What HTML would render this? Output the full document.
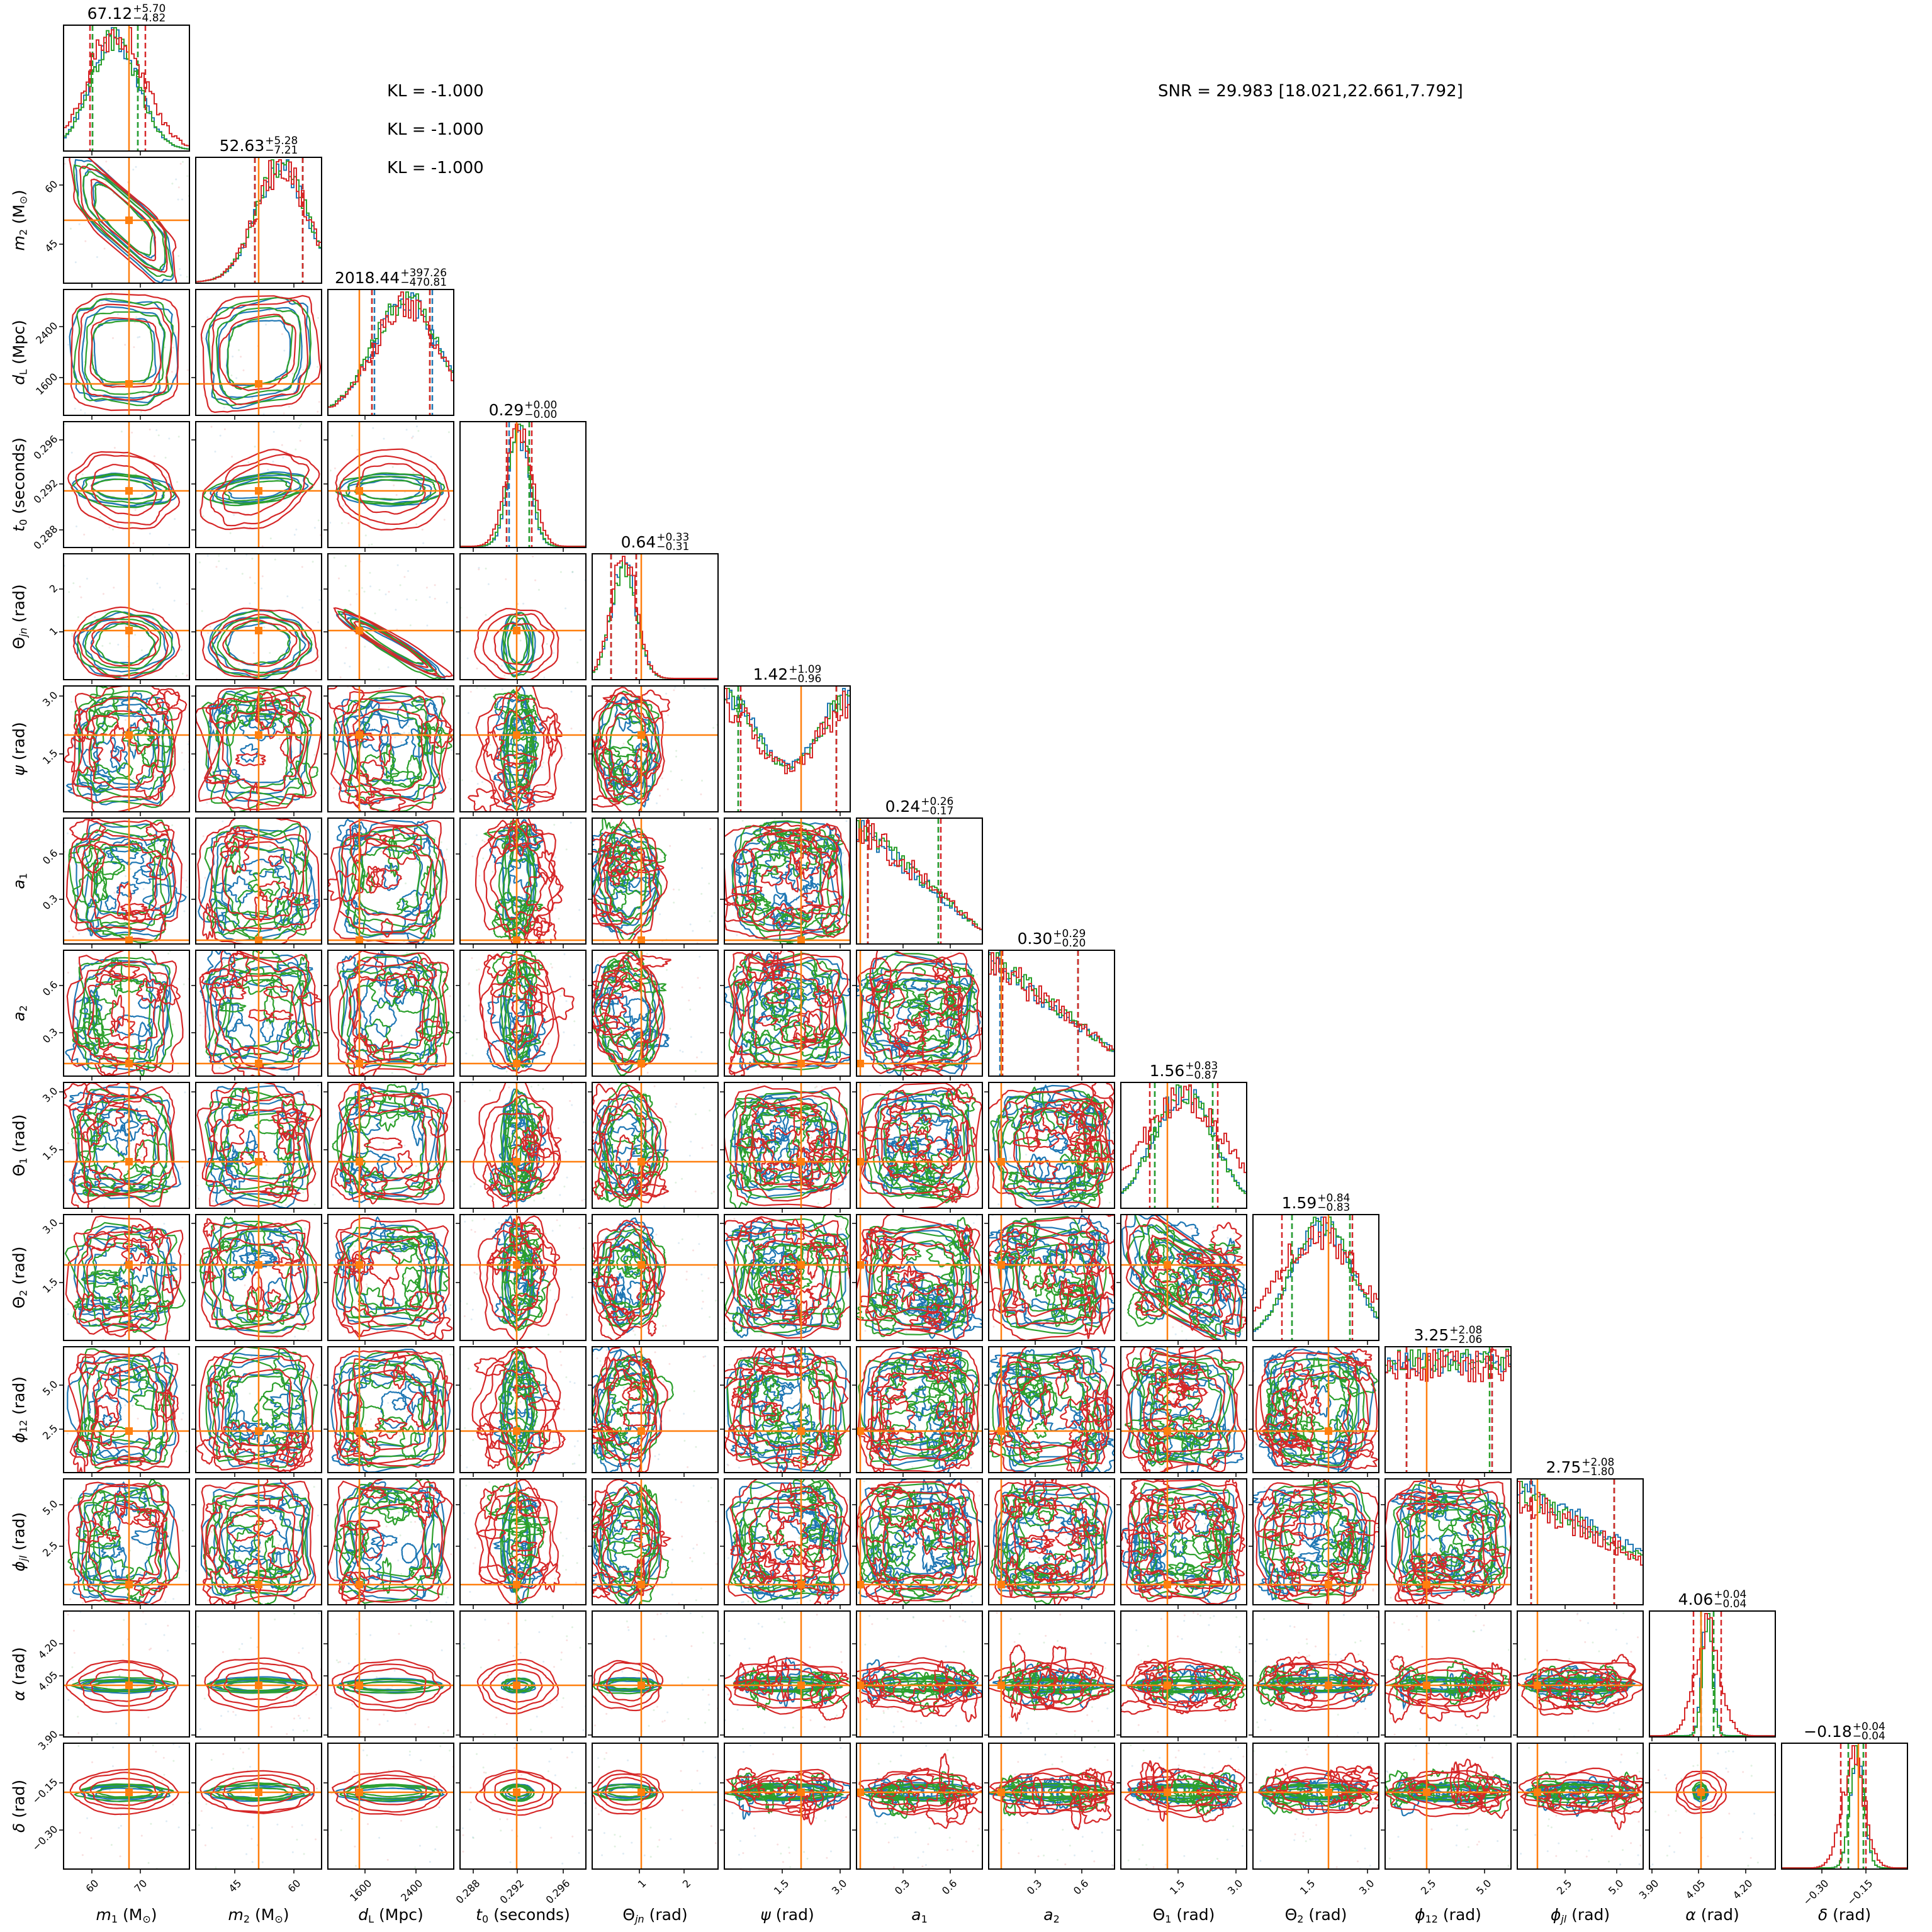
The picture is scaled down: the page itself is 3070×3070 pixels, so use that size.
<!DOCTYPE html>
<html><head><meta charset="utf-8">
<style>
body{margin:0;background:#fff;}
#w{position:relative;width:3070px;height:3070px;overflow:hidden;background:#fff;font-family:"DejaVu Sans","Liberation Sans",sans-serif;color:#000;}
svg{position:absolute;left:0;top:0;}
.t{position:absolute;height:32px;transform:translateX(-50%);display:flex;align-items:center;white-space:nowrap;}
.t .m{font-size:25px;line-height:32px;}
.t .s{display:flex;flex-direction:column;font-size:17px;line-height:15px;margin-left:1px;}
.k{position:absolute;font-size:26px;white-space:nowrap;transform:translateY(-50%);}
.xt,.yt{position:absolute;font-size:16px;white-space:nowrap;line-height:18px;transform-origin:100% 50%;transform:translate(-100%,-50%) rotate(-45deg);}
.xl{position:absolute;top:3028px;font-size:25px;white-space:nowrap;transform:translateX(-50%);}
.yl{position:absolute;left:30px;font-size:25px;white-space:nowrap;transform:translate(-50%,-50%) rotate(-90deg);}
i{font-style:italic;}
sub{font-size:16px;vertical-align:-4px;line-height:0;}
</style></head><body><div id="w">
<svg id="g" width="3070" height="3070" xmlns="http://www.w3.org/2000/svg"></svg>

<div class="k" style="left:615px;top:145px">KL = -1.000</div>
<div class="k" style="left:615px;top:206px">KL = -1.000</div>
<div class="k" style="left:615px;top:267px">KL = -1.000</div>
<div class="k" style="left:1840px;top:145px">SNR = 29.983 [18.021,22.661,7.792]</div>

<div class="t" style="left:201px;top:6px"><span class="m">67.12</span><span class="s"><span>+5.70</span><span>−4.82</span></span></div>
<div class="t" style="left:411px;top:216px"><span class="m">52.63</span><span class="s"><span>+5.28</span><span>−7.21</span></span></div>
<div class="t" style="left:621px;top:426px"><span class="m">2018.44</span><span class="s"><span>+397.26</span><span>−470.81</span></span></div>
<div class="t" style="left:831px;top:636px"><span class="m">0.29</span><span class="s"><span>+0.00</span><span>−0.00</span></span></div>
<div class="t" style="left:1041px;top:846px"><span class="m">0.64</span><span class="s"><span>+0.33</span><span>−0.31</span></span></div>
<div class="t" style="left:1251px;top:1056px"><span class="m">1.42</span><span class="s"><span>+1.09</span><span>−0.96</span></span></div>
<div class="t" style="left:1461px;top:1266px"><span class="m">0.24</span><span class="s"><span>+0.26</span><span>−0.17</span></span></div>
<div class="t" style="left:1671px;top:1476px"><span class="m">0.30</span><span class="s"><span>+0.29</span><span>−0.20</span></span></div>
<div class="t" style="left:1881px;top:1686px"><span class="m">1.56</span><span class="s"><span>+0.83</span><span>−0.87</span></span></div>
<div class="t" style="left:2091px;top:1896px"><span class="m">1.59</span><span class="s"><span>+0.84</span><span>−0.83</span></span></div>
<div class="t" style="left:2301px;top:2106px"><span class="m">3.25</span><span class="s"><span>+2.08</span><span>−2.06</span></span></div>
<div class="t" style="left:2511px;top:2316px"><span class="m">2.75</span><span class="s"><span>+2.08</span><span>−1.80</span></span></div>
<div class="t" style="left:2721px;top:2526px"><span class="m">4.06</span><span class="s"><span>+0.04</span><span>−0.04</span></span></div>
<div class="t" style="left:2931px;top:2736px"><span class="m">−0.18</span><span class="s"><span>+0.04</span><span>−0.04</span></span></div>

<div class="xt" style="left:154px;top:2990px">60</div>
<div class="xt" style="left:231px;top:2990px">70</div>
<div class="xt" style="left:381px;top:2990px">45</div>
<div class="xt" style="left:475px;top:2990px">60</div>
<div class="xt" style="left:588px;top:2990px">1600</div>
<div class="xt" style="left:669px;top:2990px">2400</div>
<div class="xt" style="left:760px;top:2990px">0.288</div>
<div class="xt" style="left:830px;top:2990px">0.292</div>
<div class="xt" style="left:903px;top:2990px">0.296</div>
<div class="xt" style="left:1024px;top:2990px">1</div>
<div class="xt" style="left:1095px;top:2990px">2</div>
<div class="xt" style="left:1251px;top:2990px">1.5</div>
<div class="xt" style="left:1343px;top:2990px">3.0</div>
<div class="xt" style="left:1443px;top:2990px">0.3</div>
<div class="xt" style="left:1518px;top:2990px">0.6</div>
<div class="xt" style="left:1653px;top:2990px">0.3</div>
<div class="xt" style="left:1727px;top:2990px">0.6</div>
<div class="xt" style="left:1880px;top:2990px">1.5</div>
<div class="xt" style="left:1972px;top:2990px">3.0</div>
<div class="xt" style="left:2087px;top:2990px">1.5</div>
<div class="xt" style="left:2181px;top:2990px">3.0</div>
<div class="xt" style="left:2279px;top:2990px">2.5</div>
<div class="xt" style="left:2367px;top:2990px">5.0</div>
<div class="xt" style="left:2495px;top:2990px">2.5</div>
<div class="xt" style="left:2577px;top:2990px">5.0</div>
<div class="xt" style="left:2633px;top:2990px">3.90</div>
<div class="xt" style="left:2707px;top:2990px">4.05</div>
<div class="xt" style="left:2782px;top:2990px">4.20</div>
<div class="xt" style="left:2903px;top:2990px">−0.30</div>
<div class="xt" style="left:2973px;top:2990px">−0.15</div>

<div class="yt" style="left:89px;top:290px">60</div>
<div class="yt" style="left:89px;top:384px">45</div>
<div class="yt" style="left:89px;top:515px">2400</div>
<div class="yt" style="left:89px;top:596px">1600</div>
<div class="yt" style="left:89px;top:695px">0.296</div>
<div class="yt" style="left:89px;top:765px">0.292</div>
<div class="yt" style="left:89px;top:838px">0.288</div>
<div class="yt" style="left:89px;top:932px">2</div>
<div class="yt" style="left:89px;top:1000px">1</div>
<div class="yt" style="left:89px;top:1102px">3.0</div>
<div class="yt" style="left:89px;top:1194px">1.5</div>
<div class="yt" style="left:89px;top:1353px">0.6</div>
<div class="yt" style="left:89px;top:1425px">0.3</div>
<div class="yt" style="left:89px;top:1562px">0.6</div>
<div class="yt" style="left:89px;top:1637px">0.3</div>
<div class="yt" style="left:89px;top:1731px">3.0</div>
<div class="yt" style="left:89px;top:1823px">1.5</div>
<div class="yt" style="left:89px;top:1940px">3.0</div>
<div class="yt" style="left:89px;top:2034px">1.5</div>
<div class="yt" style="left:89px;top:2197px">5.0</div>
<div class="yt" style="left:89px;top:2267px">2.5</div>
<div class="yt" style="left:89px;top:2387px">5.0</div>
<div class="yt" style="left:89px;top:2453px">2.5</div>
<div class="yt" style="left:89px;top:2608px">4.20</div>
<div class="yt" style="left:89px;top:2659px">4.05</div>
<div class="yt" style="left:89px;top:2753px">3.90</div>
<div class="yt" style="left:89px;top:2829px">−0.15</div>
<div class="yt" style="left:89px;top:2904px">−0.30</div>

<div class="xl" style="left:201px"><i>m</i><sub>1</sub> (M<sub>⊙</sub>)</div>
<div class="xl" style="left:411px"><i>m</i><sub>2</sub> (M<sub>⊙</sub>)</div>
<div class="xl" style="left:621px"><i>d</i><sub>L</sub> (Mpc)</div>
<div class="xl" style="left:831px"><i>t</i><sub>0</sub> (seconds)</div>
<div class="xl" style="left:1041px">Θ<sub><i>jn</i></sub> (rad)</div>
<div class="xl" style="left:1251px"><i>ψ</i> (rad)</div>
<div class="xl" style="left:1461px"><i>a</i><sub>1</sub></div>
<div class="xl" style="left:1671px"><i>a</i><sub>2</sub></div>
<div class="xl" style="left:1881px">Θ<sub>1</sub> (rad)</div>
<div class="xl" style="left:2091px">Θ<sub>2</sub> (rad)</div>
<div class="xl" style="left:2301px"><i>ϕ</i><sub>12</sub> (rad)</div>
<div class="xl" style="left:2511px"><i>ϕ</i><sub><i>jl</i></sub> (rad)</div>
<div class="xl" style="left:2721px"><i>α</i> (rad)</div>
<div class="xl" style="left:2931px"><i>δ</i> (rad)</div>

<div class="yl" style="top:350px"><i>m</i><sub>2</sub> (M<sub>⊙</sub>)</div>
<div class="yl" style="top:560px"><i>d</i><sub>L</sub> (Mpc)</div>
<div class="yl" style="top:770px"><i>t</i><sub>0</sub> (seconds)</div>
<div class="yl" style="top:980px">Θ<sub><i>jn</i></sub> (rad)</div>
<div class="yl" style="top:1190px"><i>ψ</i> (rad)</div>
<div class="yl" style="top:1400px"><i>a</i><sub>1</sub></div>
<div class="yl" style="top:1610px"><i>a</i><sub>2</sub></div>
<div class="yl" style="top:1820px">Θ<sub>1</sub> (rad)</div>
<div class="yl" style="top:2030px">Θ<sub>2</sub> (rad)</div>
<div class="yl" style="top:2240px"><i>ϕ</i><sub>12</sub> (rad)</div>
<div class="yl" style="top:2450px"><i>ϕ</i><sub><i>jl</i></sub> (rad)</div>
<div class="yl" style="top:2660px"><i>α</i> (rad)</div>
<div class="yl" style="top:2870px"><i>δ</i> (rad)</div>
</div>
<script>
(function(){
var g=document.getElementById('g');
var seed=12345;function R(){seed=(seed*16807)%2147483647;return (seed-1)/2147483646;}
var RED='#d62728',BLUE='#1f77b4',GREEN='#2ca02c',OR='#ff7f0e';
var P=[[.48,.42,.9,0],[.5,.45,.9,0],[.5,.45,.9,0],[.46,.32,.4,0],[.28,.28,.9,0],[.5,.48,.9,1],[.5,.47,.9,1],[.5,.47,.9,1],[.5,.46,.9,1],[.5,.45,.9,1],[.5,.48,.9,1],[.5,.48,.9,1],[.41,.2,.28,0],[.61,.17,.38,0]];
var TX=[.52,.50,.25,.45,.39,.61,.03,.10,.37,.60,.33,.16,.41,.61];
var XT=[[146,223],[373,467],[580,661],[752,822,895],[1016,1087],[1243,1335],[1435,1510],[1645,1719],[1872,1964],[2079,2173],[2271,2359],[2487,2569],[2625,2699,2774],[2895,2965]];
var YT=[[],[294,388],[519,600],[699,769,842],[936,1004],[1106,1198],[1357,1429],[1566,1641],[1735,1827],[1944,2038],[2201,2271],[2391,2457],[2612,2663,2757],[2833,2908]];
var RHO={'1,0':-.8,'4,2':-.95,'9,8':-.6,'3,1':.4,'3,0':-.2,'2,1':.15};
var out='';
function PX(j){return 101+210*j;}function PY(i){return 40+210*i;}
out+='<defs>';
for(var i=0;i<14;i++)for(var j=0;j<=i;j++)out+='<clipPath id="c'+i+'_'+j+'"><rect x="'+PX(j)+'" y="'+PY(i)+'" width="200" height="200"/></clipPath>';
out+='</defs>';
function loop(cx,cy,hx,hy,rho,sq,amp){
  var n=72,ph=[],d='';for(var k=0;k<4;k++)ph.push([R()*6.28,(2+k*2+Math.floor(R()*3)),R()]);
  var s=Math.sqrt(1-rho*rho);
  for(var t=0;t<n;t++){var a=t/n*6.2832,u=Math.cos(a),v=Math.sin(a);
    if(sq){u=(u<0?-1:1)*Math.pow(Math.abs(u),.55);v=(v<0?-1:1)*Math.pow(Math.abs(v),.55);}
    var r=1;for(var k=0;k<4;k++)r+=amp*ph[k][2]*Math.sin(ph[k][1]*a+ph[k][0]);
    r+=amp*.5*(R()-.5);
    var x=cx+hx*u*r,y=cy-hy*(rho*u+s*v)*r;
    d+=(t?'L':'M')+x.toFixed(1)+' '+y.toFixed(1);}
  return d+'Z';
}
var cols=[BLUE,GREEN,RED];
for(var i=1;i<14;i++)for(var j=0;j<i;j++){
  var x0=PX(j),y0=PY(i),p=P[i],q=P[j];
  var rho=RHO[i+','+j]||0;
  var messy=p[3]||q[3];
  var s='<g clip-path="url(#c'+i+'_'+j+')" fill="none" stroke-width="2.2">';
  for(var k=0;k<40;k++){s+='<circle cx="'+(x0+R()*200).toFixed(1)+'" cy="'+(y0+R()*200).toFixed(1)+'" r="1.5" fill="'+cols[k%3]+'" fill-opacity=".15" stroke="none"/>';}
  for(var ci=0;ci<3;ci++){
    var col=cols[ci],red=ci==2;
    var fx=red?1:(q[2]*(0.95+.1*R())),fy=red?1:(p[2]*(0.95+.1*R()));
    var cx=x0+200*q[0],cy=y0+200*(1-p[0]);
    var lv=[1,.84,.62];
    for(var l=0;l<3;l++){
      var hx=200*q[1]*fx*lv[l]*(0.97+.06*R()),hy=200*p[1]*fy*lv[l]*(0.97+.06*R());
      s+='<path d="'+loop(cx+(R()-.5)*4,cy+(R()-.5)*4,hx,hy,rho,(q[1]>.4&&p[1]>.4)?1:0,messy?.08:.04)+'" stroke="'+col+'"/>';
    }
    if(messy){
      var nl=(p[3]&&q[3])?16:8;
      for(var k=0;k<nl;k++){
        var bx=x0+200*(q[0]+(R()-.5)*2*q[1]*fx*.9),by=y0+200*(1-(p[0]+(R()-.5)*2*p[1]*fy*.9));
        var r1=6+R()*22,r2=6+R()*22;
        s+='<path d="'+loop(bx,by,r1,r2,0,0,.15)+'" stroke="'+col+'"/>';
      }
    }
  }
  var tx=x0+200*TX[j],ty=y0+200*(1-TX[i]);
  s+='<line x1="'+tx+'" y1="'+y0+'" x2="'+tx+'" y2="'+(y0+200)+'" stroke="'+OR+'" stroke-width="2.5"/>';
  s+='<line x1="'+x0+'" y1="'+ty+'" x2="'+(x0+200)+'" y2="'+ty+'" stroke="'+OR+'" stroke-width="2.5"/>';
  s+='<rect x="'+(tx-6)+'" y="'+(ty-6)+'" width="12" height="12" fill="'+OR+'" stroke="none"/>';
  s+='</g>';
  out+=s;
}
function gs(x,c,s){return Math.exp(-.5*(x-c)*(x-c)/(s*s));}
var H=[
 function(x,r){return gs(x,r?.42:.4,r?.22:.19);},
 function(x,r){return gs(x,.68,.2);},
 function(x,r){return gs(x,.62,.26);},
 function(x,r){return gs(x,.47,r?.1:.085);},
 function(x,r){return gs(x,.25,.1);},
 function(x,r){return .7+.3*Math.cos(6.28*x);},
 function(x,r){return 1-.9*x;},
 function(x,r){return 1-.8*x;},
 function(x,r){return r?gs(x,.5,.33):gs(x,.5,.24);},
 function(x,r){return r?gs(x,.52,.32):gs(x,.55,.24);},
 function(x,r){return .9;},
 function(x,r){return 1-.6*x;},
 function(x,r){return gs(x,.46,r?.1:.04);},
 function(x,r){return gs(x,r?.57:.6,r?.09:.055);}
];
for(var i=0;i<14;i++){
  var x0=PX(i),y0=PY(i);
  var s='<g clip-path="url(#c'+i+'_'+i+')" fill="none" stroke-width="2">';
  var nb=50;
  for(var ci=0;ci<3;ci++){
    var red=ci==2,v=[],mx=0,nz=red?.32:.22;
    for(var b=0;b<nb;b++){var x=(b+.5)/nb;var h=H[i](x,red)*(1+nz*(R()-.5))+.01;v.push(h);if(h>mx)mx=h;}
    var d='M'+x0+' '+(y0+200);var cum=0,tot=0;for(var b=0;b<nb;b++)tot+=v[b];
    var q1=null,q2=null;
    for(var b=0;b<nb;b++){var yy=y0+200-196*v[b]/mx;d+='L'+(x0+b*4)+' '+yy.toFixed(1)+'L'+(x0+b*4+4)+' '+yy.toFixed(1);
      cum+=v[b];if(q1===null&&cum>=.16*tot)q1=b;if(q2===null&&cum>=.84*tot)q2=b;}
    d+='L'+(x0+200)+' '+(y0+200);
    s+='<path d="'+d+'" stroke="'+cols[ci]+'"/>';
    [q1,q2].forEach(function(b){var xx=x0+b*4+2;s+='<line x1="'+xx+'" y1="'+y0+'" x2="'+xx+'" y2="'+(y0+200)+'" stroke="'+cols[ci]+'" stroke-width="2.5" stroke-dasharray="9,5"/>';});
  }
  var tx=x0+200*TX[i];
  s+='<line x1="'+tx+'" y1="'+y0+'" x2="'+tx+'" y2="'+(y0+200)+'" stroke="'+OR+'" stroke-width="2.5"/>';
  s+='</g>';out+=s;
}
for(var i=0;i<14;i++)for(var j=0;j<=i;j++){
  var x0=PX(j),y0=PY(i);
  out+='<rect x="'+x0+'" y="'+y0+'" width="200" height="200" fill="none" stroke="#000" stroke-width="2"/>';
  XT[j].forEach(function(t){out+='<line x1="'+t+'" y1="'+(y0+200)+'" x2="'+t+'" y2="'+(y0+207)+'" stroke="#000" stroke-width="1.5"/>';});
  if(j<i)YT[i].forEach(function(t){out+='<line x1="'+(x0-7)+'" y1="'+t+'" x2="'+x0+'" y2="'+t+'" stroke="#000" stroke-width="1.5"/>';});
}
g.innerHTML=out;
})();
</script>
</body></html>
